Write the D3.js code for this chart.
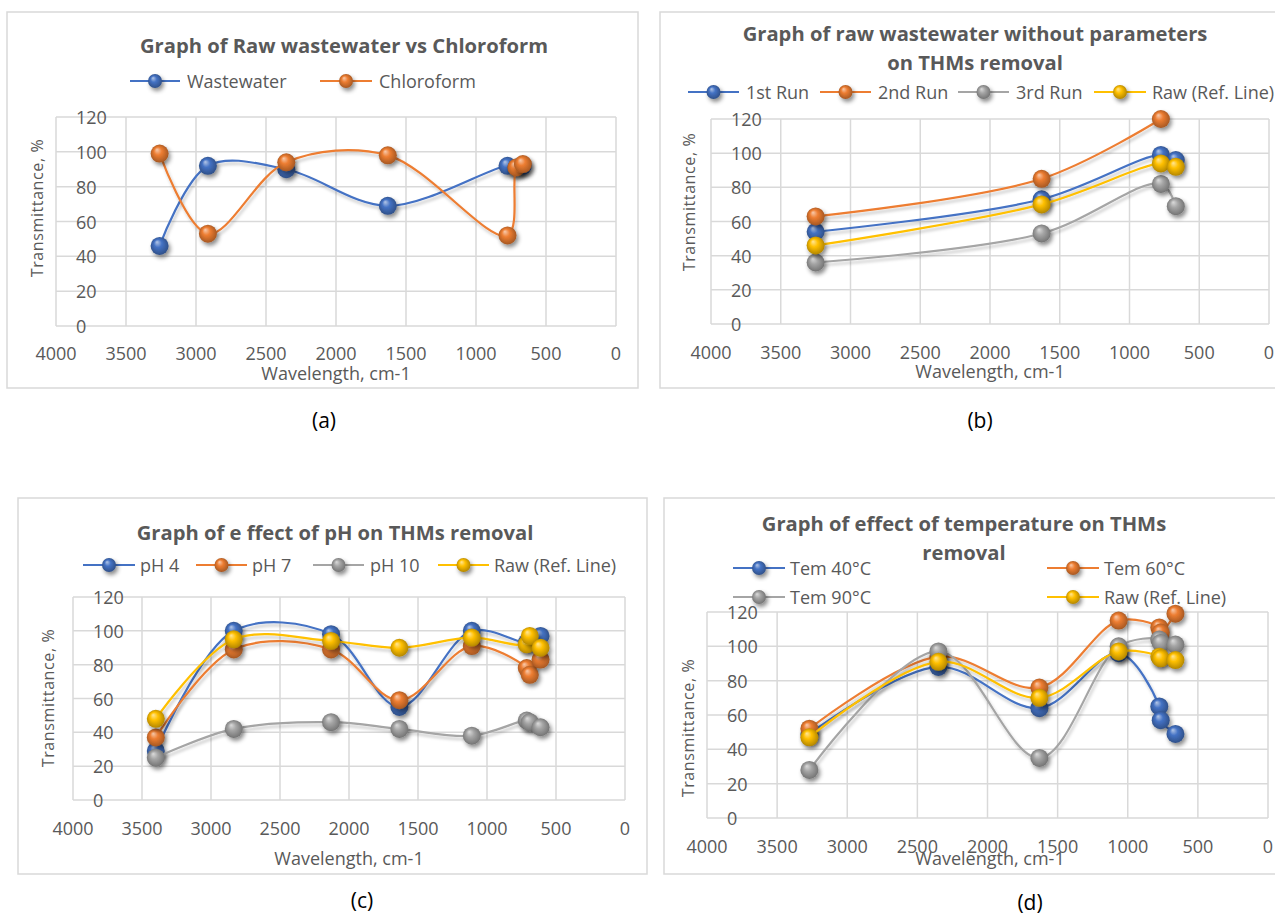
<!DOCTYPE html>
<html>
<head>
<meta charset="utf-8">
<script src="https://cdn.jsdelivr.net/npm/d3@7"></script>
<style>
  body { margin: 0; background: #fff; }
  svg { display: block; font-family: "Open Sans", sans-serif; }
</style>
</head>
<body>
<svg id="fig" width="1275" height="916"></svg>
<script>
// ---- data ----
const xTicks = [4000, 3500, 3000, 2500, 2000, 1500, 1000, 500, 0];
const yTicks = [0, 20, 40, 60, 80, 100, 120];

// (a)
const wnA = [3260, 2915, 2355, 1630, 775, 712, 665];
const wastewater = [46, 92, 90, 69, 92, 91, 92];
const chloroform = [99, 53, 94, 98, 52, 91, 93];

// (b)
const wnB = [3250, 1630, 775, 668];
const run1 = [54, 73, 99, 96];
const run2 = [63, 85, 120, null];
const run3 = [36, 53, 82, 69];
const rawB = [46, 70, 94, 92];

// (c)
const wnC = [3400, 2835, 2130, 1635, 1110, 712, 690, 612];
const ph4 = [29, 100, 98, 55, 100, 93, 95, 97];
const ph7 = [37, 89, 89, 59, 91, 78, 74, 83];
const ph10 = [25, 42, 46, 42, 38, 47, 46, 43];
const rawC = [48, 95, 94, 90, 96, 92, 97, 90];

// (d)
const wnD = [3270, 2350, 1630, 1065, 775, 765, 660];
const tem40 = [49, 88, 64, 96, 65, 57, 49];
const tem60 = [52, 94, 76, 115, 111, 108, 119];
const tem90 = [28, 97, 35, 100, 104, 102, 101];
const rawD = [47, 91, 70, 97, 94, 93, 92];

const colors = {blue: "#4472C4", orange: "#ED7D31", gray: "#A5A5A5", yellow: "#FFC000"};

const panels = [
  {
    box: [7, 12, 638, 388],
    title: ["Graph of Raw wastewater vs Chloroform"], titleX: 344, titleY: [45],
    plot: {l: 56, r: 616, t: 117, b: 326}, xLabY: 353,
    xTitle: [336, 373], yTitle: [37, 208], tag: ["(a)", 324, 420],
    wn: wnA,
    series: [
      {name: "Wastewater", v: wastewater, c: "blue"},
      {name: "Chloroform", v: chloroform, c: "orange"}
    ],
    legend: [[130, 180, 187, 81], [320, 372, 379, 81]]
  },
  {
    box: [660, 12, 1290, 388],
    title: ["Graph of raw wastewater without parameters", "on THMs removal"], titleX: 975, titleY: [33, 62],
    plot: {l: 711, r: 1269, t: 119, b: 324}, xLabY: 352,
    xTitle: [990, 371], yTitle: [689, 202], tag: ["(b)", 980, 420],
    wn: wnB,
    series: [
      {name: "1st Run", v: run1, c: "blue"},
      {name: "2nd Run", v: run2, c: "orange"},
      {name: "3rd Run", v: run3, c: "gray"},
      {name: "Raw (Ref. Line)", v: rawB, c: "yellow"}
    ],
    legend: [[688, 739, 746, 92], [820, 871, 878, 92], [958, 1009, 1016, 92], [1094, 1146, 1152, 92]]
  },
  {
    box: [18, 498, 647, 874],
    title: ["Graph of e ffect of pH on THMs removal"], titleX: 335, titleY: [532],
    plot: {l: 73, r: 625, t: 597, b: 800}, xLabY: 828,
    xTitle: [349, 858], yTitle: [48, 698], tag: ["(c)", 362, 900],
    wn: wnC,
    series: [
      {name: "pH 4", v: ph4, c: "blue"},
      {name: "pH 7", v: ph7, c: "orange"},
      {name: "pH 10", v: ph10, c: "gray"},
      {name: "Raw (Ref. Line)", v: rawC, c: "yellow"}
    ],
    legend: [[83, 135, 140, 565], [196, 247, 252, 565], [313, 364, 370, 565], [438, 489, 494, 565]]
  },
  {
    box: [664, 498, 1290, 874],
    title: ["Graph of effect of temperature on THMs", "removal"], titleX: 964, titleY: [523, 552],
    plot: {l: 707, r: 1268, t: 612, b: 818}, xLabY: 846,
    xTitle: [990, 858], yTitle: [688, 728], tag: ["(d)", 1030, 902],
    wn: wnD,
    series: [
      {name: "Tem 40°C", v: tem40, c: "blue"},
      {name: "Tem 60°C", v: tem60, c: "orange"},
      {name: "Tem 90°C", v: tem90, c: "gray"},
      {name: "Raw (Ref. Line)", v: rawD, c: "yellow"}
    ],
    legend: [[733, 785, 790, 568], [1047, 1099, 1104, 568], [733, 785, 790, 597], [1047, 1099, 1104, 597]]
  }
];

const svg = d3.select("#fig");
const defs = svg.append("defs");

// shaded sphere gradients
Object.entries(colors).forEach(([k, c]) => {
  const g = defs.append("radialGradient").attr("id", "sph-" + k)
    .attr("cx", "50%").attr("cy", "50%").attr("r", "55%")
    .attr("fx", "35%").attr("fy", "28%");
  g.append("stop").attr("offset", "0%").attr("stop-color", d3.interpolateRgb(c, "#fff")(0.6));
  g.append("stop").attr("offset", "40%").attr("stop-color", c);
  g.append("stop").attr("offset", "85%").attr("stop-color", d3.color(c).darker(0.8));
  g.append("stop").attr("offset", "100%").attr("stop-color", d3.color(c).darker(1.3));
});

const fMark = defs.append("filter").attr("id", "shMark")
  .attr("x", "-50%").attr("y", "-50%").attr("width", "200%").attr("height", "200%");
fMark.append("feDropShadow").attr("dx", 2).attr("dy", 3).attr("stdDeviation", 2)
  .attr("flood-color", "#000").attr("flood-opacity", 0.45);

const fLine = defs.append("filter").attr("id", "shLine")
  .attr("x", "-10%").attr("y", "-20%").attr("width", "120%").attr("height", "140%");
fLine.append("feDropShadow").attr("dx", 1.5).attr("dy", 3).attr("stdDeviation", 1.8)
  .attr("flood-color", "#000").attr("flood-opacity", 0.22);

const txt = "#595959";
const grid = "#d9d9d9";

panels.forEach(p => {
  const g = svg.append("g");

  g.append("rect")
    .attr("x", p.box[0]).attr("y", p.box[1])
    .attr("width", p.box[2] - p.box[0]).attr("height", p.box[3] - p.box[1])
    .attr("fill", "#fff").attr("stroke", grid).attr("stroke-width", 1.5);

  const x = d3.scaleLinear().domain([4000, 0]).range([p.plot.l, p.plot.r]);
  const y = d3.scaleLinear().domain([0, 120]).range([p.plot.b, p.plot.t]);

  // gridlines
  g.append("g").selectAll("line").data(xTicks).join("line")
    .attr("x1", d => x(d)).attr("x2", d => x(d))
    .attr("y1", p.plot.t).attr("y2", p.plot.b)
    .attr("stroke", grid).attr("stroke-width", 1.5);
  g.append("g").selectAll("line").data(yTicks).join("line")
    .attr("x1", p.plot.l).attr("x2", p.plot.r)
    .attr("y1", d => y(d)).attr("y2", d => y(d))
    .attr("stroke", grid).attr("stroke-width", 1.5);

  // tick labels
  g.append("g").selectAll("text").data(xTicks).join("text")
    .attr("x", d => x(d)).attr("y", p.xLabY)
    .attr("text-anchor", "middle").attr("dominant-baseline", "central")
    .attr("font-size", 18).attr("fill", txt).text(d => d);
  g.append("g").selectAll("text").data(yTicks).join("text")
    .attr("x", p.plot.l + 20).attr("y", d => y(d))
    .attr("dominant-baseline", "central")
    .attr("font-size", 18).attr("fill", txt).text(d => d);

  // axis titles
  g.append("text").attr("x", p.xTitle[0]).attr("y", p.xTitle[1])
    .attr("text-anchor", "middle").attr("dominant-baseline", "central")
    .attr("font-size", 18).attr("fill", txt).text("Wavelength, cm-1");
  g.append("text")
    .attr("transform", `translate(${p.yTitle[0]},${p.yTitle[1]}) rotate(-90)`)
    .attr("text-anchor", "middle").attr("dominant-baseline", "central")
    .attr("font-size", 16).attr("letter-spacing", 0.6).attr("fill", txt).text("Transmittance, %");

  // title
  p.title.forEach((t, i) => {
    g.append("text").attr("x", p.titleX).attr("y", p.titleY[i])
      .attr("text-anchor", "middle").attr("dominant-baseline", "central")
      .attr("font-size", 20.2).attr("font-weight", "bold").attr("fill", txt).text(t);
  });

  // legend
  p.series.forEach((s, i) => {
    const [lx1, lx2, tx, ly] = p.legend[i];
    const col = colors[s.c];
    g.append("line").attr("x1", lx1).attr("x2", lx2).attr("y1", ly).attr("y2", ly)
      .attr("stroke", col).attr("stroke-width", 2.2);
    g.append("circle").attr("cx", (lx1 + lx2) / 2).attr("cy", ly).attr("r", 7)
      .attr("fill", `url(#sph-${s.c})`).attr("filter", "url(#shMark)");
    g.append("text").attr("x", tx).attr("y", ly)
      .attr("dominant-baseline", "central")
      .attr("font-size", 18).attr("fill", txt).text(s.name);
  });

  // series
  const line = d3.line()
    .defined(d => d[1] != null)
    .x(d => x(d[0])).y(d => y(d[1]))
    .curve(d3.curveCatmullRom.alpha(0.5));

  p.series.forEach(s => {
    const pts = p.wn.map((w, i) => [w, s.v[i]]);
    const col = colors[s.c];
    const sg = g.append("g");
    sg.append("path").datum(pts).attr("d", line)
      .attr("fill", "none").attr("stroke", col).attr("stroke-width", 2.2)
      .attr("filter", "url(#shLine)");
    sg.selectAll("circle").data(pts.filter(d => d[1] != null)).join("circle")
      .attr("cx", d => x(d[0])).attr("cy", d => y(d[1])).attr("r", 9)
      .attr("fill", `url(#sph-${s.c})`).attr("filter", "url(#shMark)");
  });

  // panel tag
  svg.append("text").attr("x", p.tag[1]).attr("y", p.tag[2])
    .attr("text-anchor", "middle").attr("dominant-baseline", "central")
    .attr("font-size", 21).attr("fill", "#000").text(p.tag[0]);
});
</script>
</body>
</html>
